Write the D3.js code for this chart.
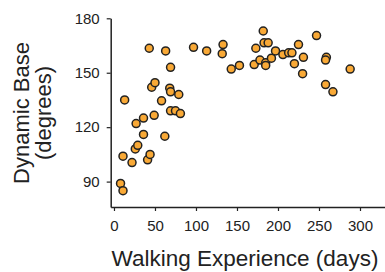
<html>
  <head>
    <meta charset="UTF-8">
    <script src="https://d3js.org/d3.v7.min.js"></script>
    <style type="text/css">
    body {
      margin: 0;
      font-family: 'Liberation Sans', Arial, sans-serif;
      background: #fff;
    }
    </style>
  </head>
  <body>
  </body>
  <script>
    // points
    var days = [8, 11, 11, 13, 22, 26, 29, 27, 36, 36, 41, 44, 43, 46, 50, 49, 58, 62, 63, 69,
                68, 69, 69, 75, 79, 81, 97, 113, 133, 132, 143, 153, 173, 171, 178, 182, 183, 188,
                185, 185, 192, 197, 206, 213, 217, 220, 225, 231, 230, 247, 259, 258, 258, 267, 288];
    var base = [89, 85, 104, 135, 100.5, 108, 110, 122, 125, 116, 102, 105, 163.5, 142, 144.5, 126.5,
                134.5, 115, 162, 153, 141.5, 139.5, 129, 129, 138, 127.5, 164, 162, 165.5, 160.5, 152,
                154, 163.5, 154.5, 157, 173, 166.5, 166.5, 155.5, 154, 158, 162, 160, 161, 161, 155,
                165.5, 158.5, 149.5, 170.5, 158.5, 157, 143.5, 139.5, 152];
    var xTicks = [0, 50, 100, 150, 200, 250, 300];
    var yTicks = [90, 120, 150, 180];

    var width = 385, height = 272;

    var svg = d3.select("body")
      .append("svg")
        .attr("width", width)
        .attr("height", height);

    var x = d3.scaleLinear()
      .domain([-4, 330])
      .range([110.7, 384.6]);

    var y = d3.scaleLinear()
      .domain([76, 180])
      .range([207, 18.3]);

    // x axis
    var xg = svg.append("g")
      .attr("transform", "translate(0," + y(76) + ")")
      .call(d3.axisBottom(x).tickValues(xTicks).tickSize(4).tickSizeOuter(0).tickPadding(9));

    // y axis
    var yg = svg.append("g")
      .attr("transform", "translate(" + x(-4) + ",0)")
      .call(d3.axisLeft(y).tickValues(yTicks).tickSize(4).tickSizeOuter(0).tickPadding(7));

    [xg, yg].forEach(function(g) {
      g.select(".domain").attr("stroke", "#222").attr("stroke-width", 1.5);
      g.selectAll(".tick line").attr("stroke", "#222").attr("stroke-width", 1.2);
      g.selectAll(".tick text")
        .attr("fill", "#222")
        .style("font-family", "'Liberation Sans', Arial, sans-serif")
        .style("font-size", "15px");
    });

    // points
    svg.append("g")
      .selectAll("circle")
      .data(days)
      .enter()
      .append("circle")
        .attr("cx", function(d) { return x(d); })
        .attr("cy", function(d, i) { return y(base[i]); })
        .attr("r", 4)
        .attr("fill", "#f9a936")
        .attr("stroke", "#222")
        .attr("stroke-width", 1.5);

    // axis titles
    svg.append("text")
      .attr("x", 245)
      .attr("y", 266)
      .attr("text-anchor", "middle")
      .attr("fill", "#222")
      .style("font-size", "22.5px")
      .text("Walking Experience (days)");

    var yt = svg.append("text")
      .attr("transform", "translate(29,113) rotate(-90)")
      .attr("text-anchor", "middle")
      .attr("fill", "#222")
      .style("font-size", "22px");
    yt.append("tspan").attr("x", 0).attr("dy", 0).text("Dynamic Base");
    yt.append("tspan").attr("x", 0).attr("dy", 21.5).text("(degrees)");
  </script>
</html>
